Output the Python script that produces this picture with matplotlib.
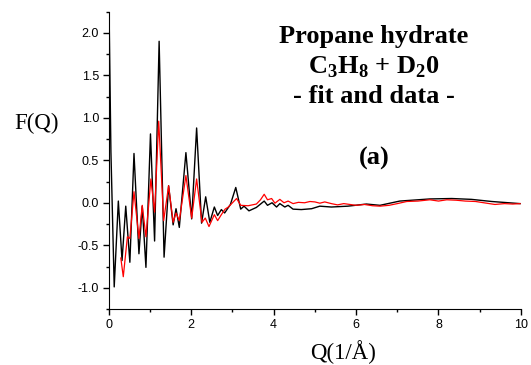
import matplotlib
matplotlib.use('Agg')
import matplotlib.pyplot as plt
from matplotlib.ticker import MultipleLocator

# data (Q in 1/A, F(Q))
q_data = [0.0, 0.05, 0.13, 0.23, 0.32, 0.41, 0.51, 0.61, 0.73, 0.81, 0.90, 1.01,
          1.11, 1.22, 1.34, 1.45, 1.56, 1.63, 1.71, 1.87, 2.01, 2.13, 2.25, 2.35,
          2.45, 2.56, 2.64, 2.73, 2.81, 2.95, 3.08, 3.20, 3.28, 3.40, 3.58, 3.77,
          3.85, 3.96, 4.07, 4.15, 4.27, 4.35, 4.47, 4.67, 4.92, 5.12, 5.40, 5.80,
          6.25, 6.58, 7.06, 7.79, 8.32, 8.80, 9.29, 9.98]
f_data = [2.45, 0.6, -0.99, 0.02, -0.68, -0.04, -0.70, 0.58, -0.60, -0.04, -0.76, 0.81,
          -0.45, 1.90, -0.64, 0.20, -0.26, -0.07, -0.29, 0.59, -0.19, 0.88, -0.24, 0.07,
          -0.23, -0.05, -0.15, -0.08, -0.12, -0.02, 0.18, -0.075, -0.04, -0.095, -0.055, 0.02,
          -0.03, 0.0, -0.05, -0.01, -0.05, -0.03, -0.075, -0.08, -0.07, -0.04, -0.05, -0.04,
          -0.015, -0.03, 0.02, 0.045, 0.05, 0.04, 0.015, -0.01]

q_fit = [0.29, 0.35, 0.45, 0.51, 0.61, 0.73, 0.81, 0.90, 1.02, 1.11, 1.21, 1.33,
         1.45, 1.56, 1.63, 1.71, 1.87, 2.01, 2.13, 2.26, 2.34, 2.43, 2.56, 2.64,
         2.73, 2.82, 2.90, 3.02, 3.10, 3.20, 3.38, 3.58, 3.68, 3.77, 3.85, 3.95,
         4.03, 4.15, 4.25, 4.35, 4.47, 4.60, 4.75, 4.88, 5.00, 5.12, 5.24, 5.40,
         5.55, 5.70, 5.85, 6.00, 6.20, 6.40, 6.58, 6.80, 7.00, 7.23, 7.50, 7.79,
         8.00, 8.20, 8.43, 8.65, 8.90, 9.10, 9.37, 9.60, 9.80, 9.98]
f_fit = [-0.65, -0.87, -0.40, -0.42, 0.13, -0.42, -0.03, -0.40, 0.28, -0.11, 0.96, -0.21,
         0.20, -0.23, -0.12, -0.21, 0.32, -0.18, 0.28, -0.23, -0.18, -0.28, -0.14, -0.21,
         -0.14, -0.075, -0.05, 0.01, 0.05, -0.03, -0.035, -0.015, 0.035, 0.10, 0.035, 0.05,
         -0.005, 0.04, 0.0, 0.02, -0.01, 0.005, 0.0, 0.015, 0.01, -0.005, 0.01, -0.01,
         -0.025, -0.01, -0.02, -0.03, -0.02, -0.035, -0.04, -0.03, -0.01, 0.015, 0.02, 0.035,
         0.02, 0.035, 0.03, 0.02, 0.015, 0.0, -0.02, -0.01, -0.015, -0.01]

plt.rcParams['font.family'] = 'Liberation Sans'
plt.rcParams['mathtext.fontset'] = 'custom'
plt.rcParams['mathtext.bf'] = 'Liberation Serif:bold'
plt.rcParams['mathtext.rm'] = 'Liberation Serif'

fig = plt.figure(figsize=(5.31, 3.65), dpi=100)
ax = fig.add_axes([0.205, 0.1534, 0.776, 0.815])

ax.plot(q_data, f_data, color='black', lw=1.0)
ax.plot(q_fit, f_fit, color='red', lw=0.9)

ax.set_xlim(0, 10)
ax.set_ylim(-1.25, 2.25)
ax.xaxis.set_minor_locator(MultipleLocator(1))
ax.yaxis.set_minor_locator(MultipleLocator(0.25))
ax.set_yticks([-1.0, -0.5, 0.0, 0.5, 1.0, 1.5, 2.0])
ax.set_yticklabels(['-1.0', '-0.5', '0.0', '0.5', '1.0', '1.5', '2.0'])
ax.set_xticks([0, 2, 4, 6, 8, 10])
ax.set_xticklabels(['0', '2', '4', '6', '8', '10'])
for s in ['top', 'right']:
    ax.spines[s].set_visible(False)
ax.tick_params(which='major', direction='out', length=4, width=1, labelsize=9, pad=3)
ax.tick_params(which='minor', direction='out', length=2.5, width=1)

serif = 'Liberation Serif'
fig.text(37 / 531, 1 - 129 / 365, 'F(Q)', family=serif, fontsize=16.5, ha='center', va='baseline')
fig.text(343 / 531, 1 - 359 / 365, 'Q(1/Å)', family=serif, fontsize=16.5, ha='center', va='baseline')

xc = 374 / 531
bold = dict(family=serif, fontsize=19, fontweight='bold', ha='center', va='baseline')
fig.text(xc, 1 - 43.5 / 365, 'Propane hydrate', **bold)
fig.text(xc, 1 - 74 / 365, r'C$_\mathbf{3}$H$_\mathbf{8}$ + D$_\mathbf{2}$0', **bold)
fig.text(xc, 1 - 103 / 365, '- fit and data -', **bold)
fig.text(xc, 1 - 165 / 365, '(a)', **bold)

fig.savefig('out.png', dpi=100)
